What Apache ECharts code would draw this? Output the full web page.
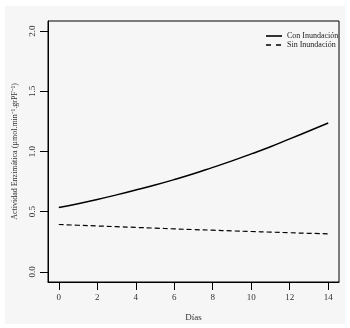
<!DOCTYPE html>
<html lang="es">
<head>
    <meta charset="UTF-8">
    <title>Actividad Enzimática</title>
    <script src="https://cdn.jsdelivr.net/npm/echarts@6/dist/echarts.min.js"></script>
    <style>
        *{
            padding:0;
            margin:0;
            box-sizing: border-box;
        }
        body{
            background:#fff;
        }
        .back{
            position:absolute;
            left:5px;
            top:6px;
            width:340px;
            height:318px;
            background:#f6f6f6;
        }
        #main{
            position:absolute;
            left:0;
            top:0;
            width:350px;
            height:328px;
        }
    </style>
</head>
<body>
    <div class="back"></div>
    <div id="main"></div>
    <script>
        var dias=[0,1,2,3,4,5,6,7,8,9,10,11,12,13,14]
        var conInundacion=[0.535,0.567,0.602,0.640,0.680,0.722,0.767,0.815,0.868,0.922,0.980,1.040,1.105,1.170,1.236]
        var sinInundacion=[0.394,0.388,0.382,0.376,0.370,0.364,0.358,0.352,0.347,0.341,0.336,0.331,0.326,0.321,0.317]
        var xTicks=[0,2,4,6,8,10,12,14]
        var yTicks=[0,0.5,1,1.5,2]

        function pares(xs,ys){
            return xs.map(function(x,i){return [x,ys[i]]})
        }

        var serif="Liberation Serif"
        var myChart=echarts.init(document.getElementById("main"))
        var option={
            animation:false,
            grid:{
                show:true,
                left:48,
                top:21,
                right:11,
                bottom:46,
                borderColor:"#000",
                borderWidth:1,
                backgroundColor:"transparent",
            },
            legend:{
                orient:"vertical",
                left:261,
                top:27,
                itemWidth:16,
                itemHeight:10,
                itemGap:1,
                data:[
                    {name:"Con Inundación",icon:"path://M0,0H16V1.6H0Z"},
                    {name:"Sin Inundación",icon:"path://M0,0H5V1.6H0Z M10,0H15V1.6H10Z M15,0H16V0.01H15Z"}
                ],
                itemStyle:{color:"#000"},
                textStyle:{
                    fontFamily:serif,
                    fontSize:8,
                    color:"#222",
                }
            },
            xAxis:{
                type:"value",
                position:"bottom",
                min:-0.56,
                max:14.56,
                name:"Días",
                nameLocation:"middle",
                nameGap:31,
                nameTextStyle:{fontFamily:serif,fontSize:9,color:"#333"},
                axisLine:{show:true,onZero:false,lineStyle:{color:"#000",width:1}},
                splitLine:{show:false},
                axisTick:{
                    show:true,
                    inside:false,
                    length:8,
                    customValues:xTicks,
                    lineStyle:{color:"#000",width:1},
                },
                axisLabel:{
                    customValues:xTicks,
                    fontFamily:serif,
                    fontSize:9,
                    color:"#333",
                    margin:11,
                }
            },
            yAxis:{
                type:"value",
                position:"left",
                min:-0.083,
                max:2.083,
                name:"Actividad Enzimática (µmol.min⁻¹.grPF⁻¹)",
                nameLocation:"middle",
                nameGap:29,
                nameTextStyle:{fontFamily:serif,fontSize:8,color:"#333"},
                axisLine:{show:true,onZero:false,lineStyle:{color:"#000",width:1}},
                splitLine:{show:false},
                axisTick:{
                    show:true,
                    inside:false,
                    length:8,
                    customValues:yTicks,
                    lineStyle:{color:"#000",width:1},
                },
                axisLabel:{
                    customValues:yTicks,
                    rotate:90,
                    fontFamily:serif,
                    fontSize:9,
                    color:"#333",
                    margin:11,
                    formatter:function(v){return v.toFixed(1)},
                }
            },
            series:[
                {
                    name:"Con Inundación",
                    type:"line",
                    data:pares(dias,conInundacion),
                    smooth:true,
                    symbol:"none",
                    lineStyle:{color:"#000",width:1.5,type:"solid"},
                    itemStyle:{color:"#000"},
                },
                {
                    name:"Sin Inundación",
                    type:"line",
                    data:pares(dias,sinInundacion),
                    smooth:true,
                    symbol:"none",
                    lineStyle:{color:"#000",width:1.2,type:[5,3]},
                    itemStyle:{color:"#000"},
                }
            ]
        }
        myChart.setOption(option)
        window.onresize=myChart.resize
    </script>
</body>
</html>
